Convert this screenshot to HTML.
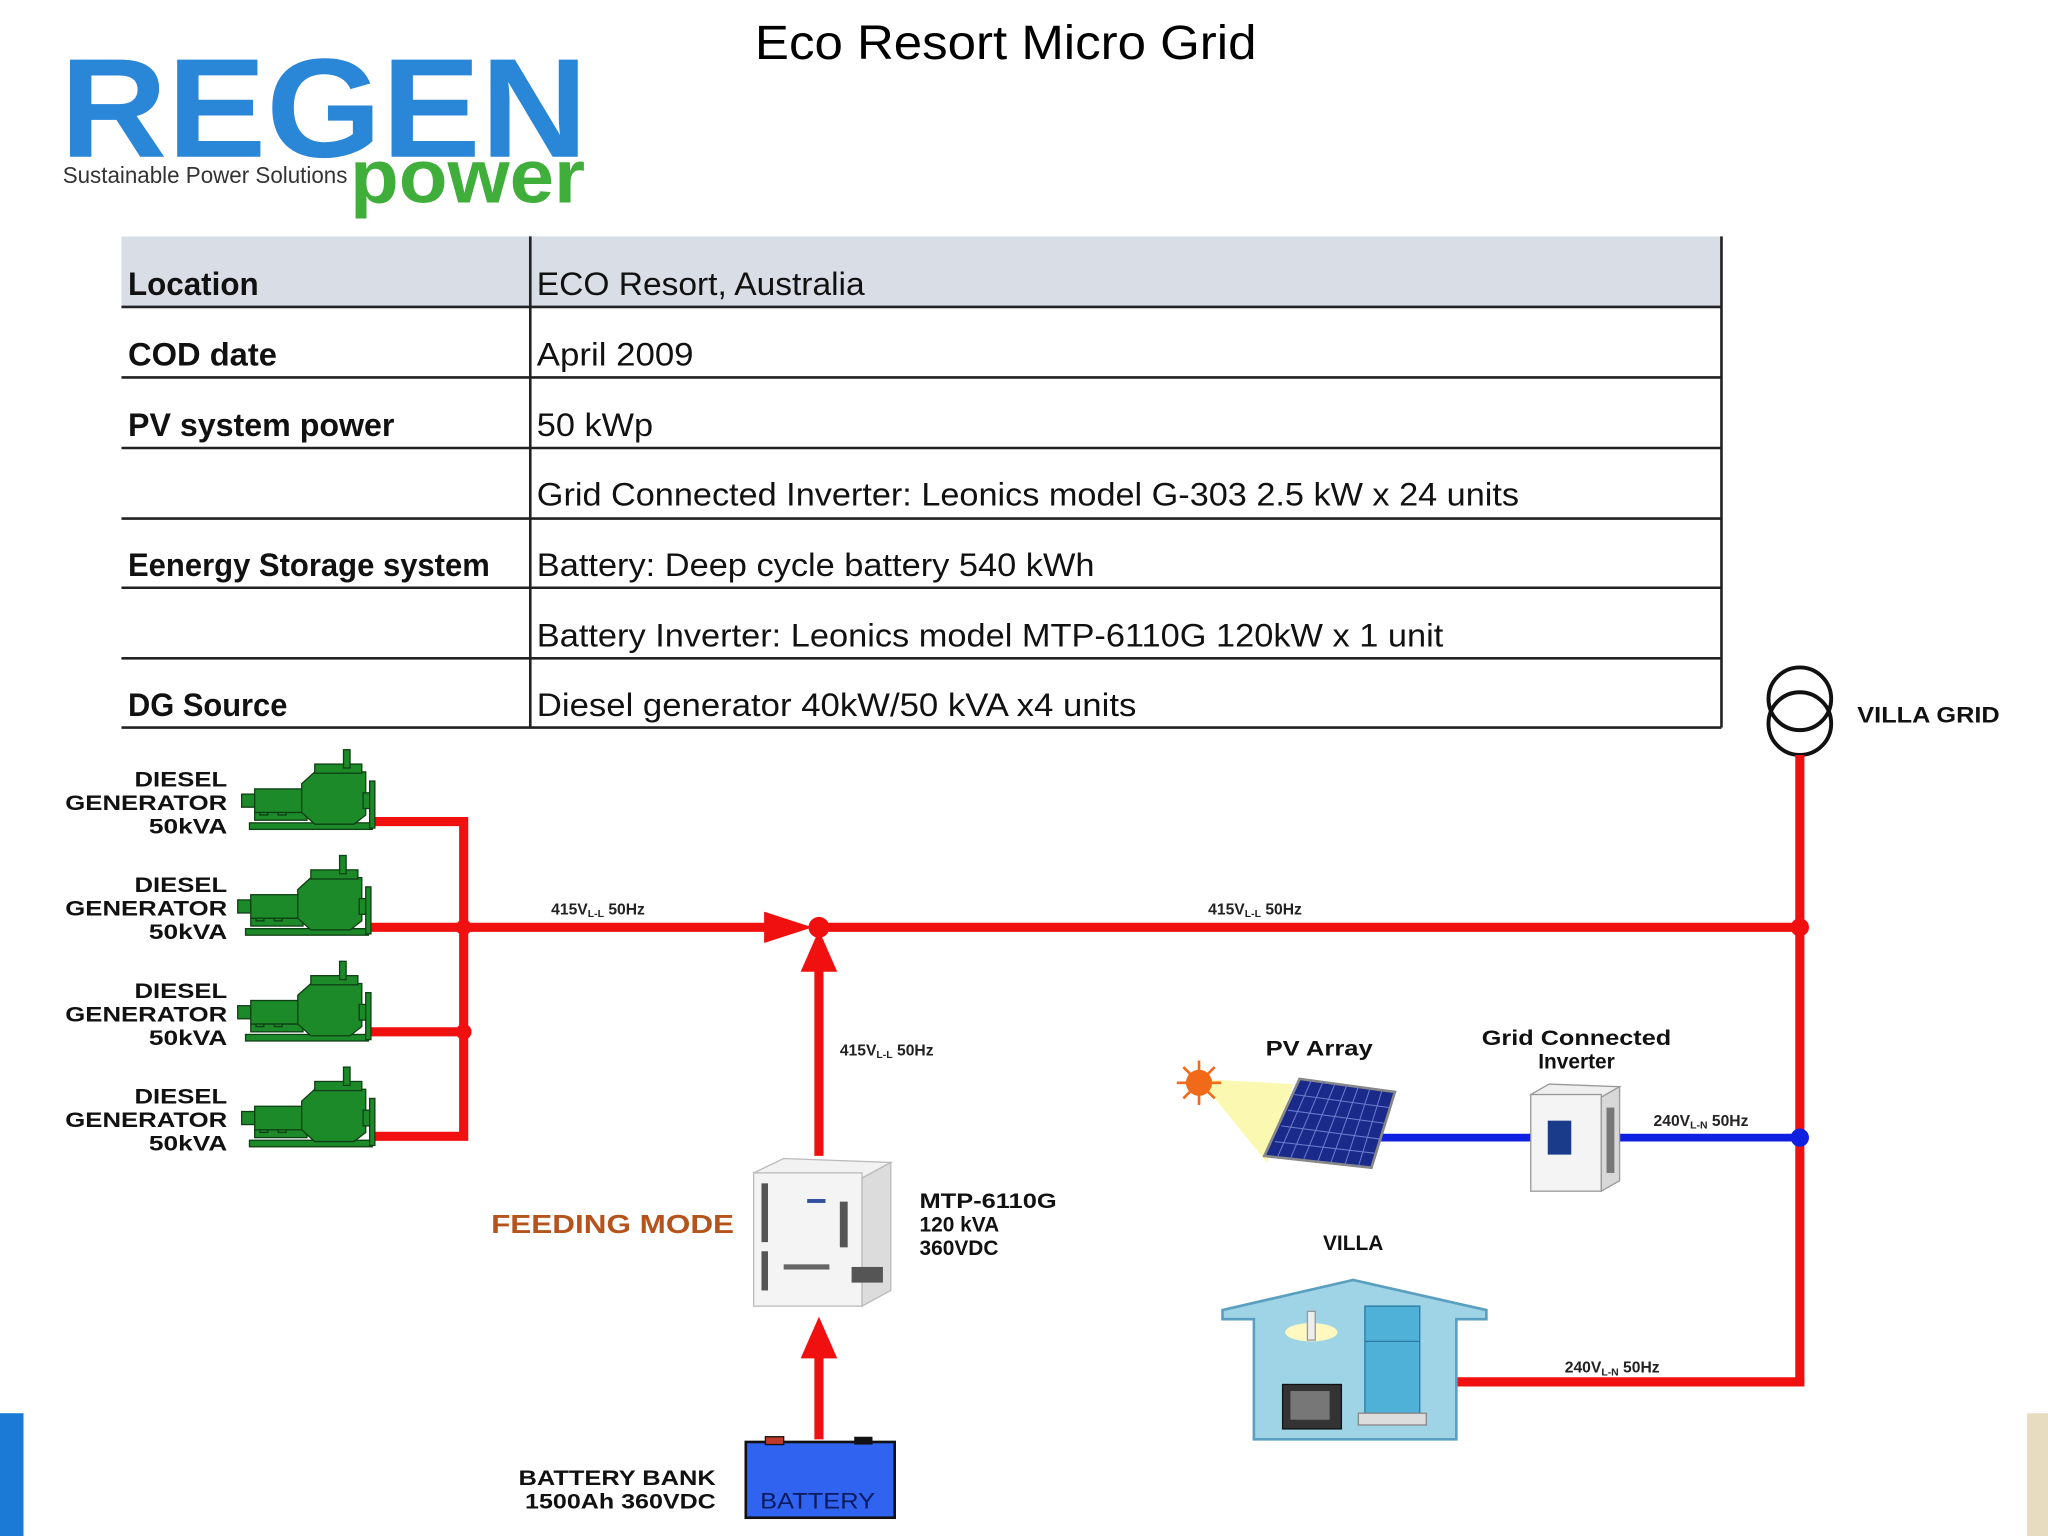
<!DOCTYPE html>
<html><head><meta charset="utf-8"><style>
html,body{margin:0;padding:0;background:#fff;}
svg{display:block;}
text{font-family:"Liberation Sans",Arial,sans-serif;}
</style></head><body>
<svg width="2048" height="1536" viewBox="0 0 1568 1176" xmlns="http://www.w3.org/2000/svg">
<defs>
<g id="gen">
  <rect x="6" y="56" width="94" height="5" fill="#1d8a2a" stroke="#0f3f14" stroke-width="1"/>
  <rect x="10" y="48" width="40" height="6" fill="#1d8a2a" stroke="#0f3f14" stroke-width="1"/>
  <rect x="14" y="44" width="6" height="6" fill="#1d8a2a" stroke="#0f3f14" stroke-width="1"/>
  <rect x="28" y="44" width="6" height="6" fill="#1d8a2a" stroke="#0f3f14" stroke-width="1"/>
  <rect x="0" y="34" width="10" height="10" fill="#1d8a2a" stroke="#0f3f14" stroke-width="1"/>
  <rect x="10" y="30" width="38" height="18" fill="#1d8a2a" stroke="#0f3f14" stroke-width="1"/>
  <polygon points="46,26 56,17 95,17 95,50 86,57 56,57 46,48" fill="#1d8a2a" stroke="#0f3f14" stroke-width="1"/>
  <rect x="56" y="11" width="36" height="7" fill="#1d8a2a" stroke="#0f3f14" stroke-width="1"/>
  <rect x="78" y="0" width="5" height="14" fill="#1d8a2a" stroke="#0f3f14" stroke-width="1"/>
  <rect x="93" y="33" width="6" height="12" fill="#1d8a2a" stroke="#0f3f14" stroke-width="1"/>
  <rect x="98" y="24" width="4" height="36" fill="#1d8a2a" stroke="#0f3f14" stroke-width="1"/>
</g>
</defs>

<!-- Title -->
<text x="578" y="45" font-size="37" fill="#000" textLength="384" lengthAdjust="spacingAndGlyphs">Eco Resort Micro Grid</text>

<!-- Logo -->
<text x="46" y="120" font-size="108" font-weight="bold" fill="#2a86d6" textLength="404" lengthAdjust="spacingAndGlyphs">REGEN</text>
<text x="48" y="140" font-size="18" fill="#333" textLength="218" lengthAdjust="spacingAndGlyphs">Sustainable Power Solutions</text>
<text x="268" y="155" font-size="58" font-weight="bold" fill="#3fae3a" textLength="180" lengthAdjust="spacingAndGlyphs">power</text>

<!-- Table -->
<rect x="93" y="181" width="1225" height="54" fill="#d9dde5"/>
<g stroke="#222" stroke-width="2" fill="none">
  <line x1="93" y1="235" x2="1318" y2="235"/>
  <line x1="93" y1="289" x2="1318" y2="289"/>
  <line x1="93" y1="343" x2="1318" y2="343"/>
  <line x1="93" y1="397" x2="1318" y2="397"/>
  <line x1="93" y1="450" x2="1318" y2="450"/>
  <line x1="93" y1="504" x2="1318" y2="504"/>
  <line x1="93" y1="557" x2="1318" y2="557"/>
  <line x1="406" y1="181" x2="406" y2="557"/>
  <line x1="1318" y1="181" x2="1318" y2="557"/>
</g>
<g font-size="25" fill="#111" lengthAdjust="spacingAndGlyphs">
  <text x="98" y="226" font-weight="bold" textLength="100" lengthAdjust="spacingAndGlyphs">Location</text>
  <text x="98" y="280" font-weight="bold" textLength="114" lengthAdjust="spacingAndGlyphs">COD date</text>
  <text x="98" y="334" font-weight="bold" textLength="204" lengthAdjust="spacingAndGlyphs">PV system power</text>
  <text x="98" y="441" font-weight="bold" textLength="277" lengthAdjust="spacingAndGlyphs">Eenergy Storage system</text>
  <text x="98" y="548" font-weight="bold" textLength="122" lengthAdjust="spacingAndGlyphs">DG Source</text>
  <text x="411" y="226" textLength="251" lengthAdjust="spacingAndGlyphs">ECO Resort, Australia</text>
  <text x="411" y="280" textLength="120" lengthAdjust="spacingAndGlyphs">April 2009</text>
  <text x="411" y="334" textLength="89" lengthAdjust="spacingAndGlyphs">50 kWp</text>
  <text x="411" y="387" textLength="752" lengthAdjust="spacingAndGlyphs">Grid Connected Inverter: Leonics model G-303 2.5 kW x 24 units</text>
  <text x="411" y="441" textLength="427" lengthAdjust="spacingAndGlyphs">Battery: Deep cycle battery 540 kWh</text>
  <text x="411" y="495" textLength="694" lengthAdjust="spacingAndGlyphs">Battery Inverter: Leonics model MTP-6110G 120kW x 1 unit</text>
  <text x="411" y="548" textLength="459" lengthAdjust="spacingAndGlyphs">Diesel generator 40kW/50 kVA x4 units</text>
</g>

<!-- Villa grid transformer -->
<circle cx="1378" cy="535" r="24" fill="none" stroke="#111" stroke-width="3"/>
<circle cx="1378" cy="554" r="24" fill="none" stroke="#111" stroke-width="3"/>
<text x="1422" y="553" font-size="17" font-weight="bold" fill="#111" textLength="109" lengthAdjust="spacingAndGlyphs">VILLA GRID</text>

<!-- Red lines -->
<g stroke="#f01010" stroke-width="7" fill="none">
  <line x1="1378" y1="578" x2="1378" y2="1060"/>
  <line x1="283" y1="710" x2="590" y2="710"/>
  <line x1="627" y1="710" x2="1378" y2="710"/>
  <polyline points="283,629 355,629 355,870 283,870"/>
  <line x1="283" y1="790" x2="355" y2="790"/>
  <line x1="627" y1="885" x2="627" y2="740"/>
  <line x1="627" y1="1102" x2="627" y2="1035"/>
  <polyline points="1115,1058 1378,1058 1378,1055"/>
</g>
<polygon points="585,698 585,722 622,710" fill="#f01010"/>
<polygon points="613,744 641,744 627,712" fill="#f01010"/>
<polygon points="613,1040 641,1040 627,1008" fill="#f01010"/>
<g fill="#f01010">
  <circle cx="355" cy="710" r="6"/>
  <circle cx="355" cy="790" r="6"/>
  <circle cx="627" cy="710" r="8"/>
  <circle cx="1378" cy="710" r="7"/>
</g>

<!-- Blue line -->
<line x1="1055" y1="871" x2="1378" y2="871" stroke="#1020e0" stroke-width="6"/>
<circle cx="1378" cy="871" r="7" fill="#1020e0"/>

<!-- Voltage labels -->
<g font-size="12" font-weight="bold" fill="#222">
  <text x="422" y="700">415V<tspan font-size="8" dy="2">L-L</tspan><tspan dy="-2"> 50Hz</tspan></text>
  <text x="925" y="700">415V<tspan font-size="8" dy="2">L-L</tspan><tspan dy="-2"> 50Hz</tspan></text>
  <text x="643" y="808">415V<tspan font-size="8" dy="2">L-L</tspan><tspan dy="-2"> 50Hz</tspan></text>
  <text x="1266" y="862">240V<tspan font-size="8" dy="2">L-N</tspan><tspan dy="-2"> 50Hz</tspan></text>
  <text x="1198" y="1051">240V<tspan font-size="8" dy="2">L-N</tspan><tspan dy="-2"> 50Hz</tspan></text>
</g>

<!-- Generators -->
<use href="#gen" x="185" y="574"/>
<use href="#gen" x="182" y="655"/>
<use href="#gen" x="182" y="736"/>
<use href="#gen" x="185" y="817"/>
<g font-size="16" font-weight="bold" fill="#111" text-anchor="end">
  <text x="174" y="602" textLength="71" lengthAdjust="spacingAndGlyphs">DIESEL</text><text x="174" y="620" textLength="124" lengthAdjust="spacingAndGlyphs">GENERATOR</text><text x="174" y="638" textLength="60" lengthAdjust="spacingAndGlyphs">50kVA</text>
  <text x="174" y="683" textLength="71" lengthAdjust="spacingAndGlyphs">DIESEL</text><text x="174" y="701" textLength="124" lengthAdjust="spacingAndGlyphs">GENERATOR</text><text x="174" y="719" textLength="60" lengthAdjust="spacingAndGlyphs">50kVA</text>
  <text x="174" y="764" textLength="71" lengthAdjust="spacingAndGlyphs">DIESEL</text><text x="174" y="782" textLength="124" lengthAdjust="spacingAndGlyphs">GENERATOR</text><text x="174" y="800" textLength="60" lengthAdjust="spacingAndGlyphs">50kVA</text>
  <text x="174" y="845" textLength="71" lengthAdjust="spacingAndGlyphs">DIESEL</text><text x="174" y="863" textLength="124" lengthAdjust="spacingAndGlyphs">GENERATOR</text><text x="174" y="881" textLength="60" lengthAdjust="spacingAndGlyphs">50kVA</text>
</g>

<!-- MTP inverter -->
<polygon points="577,898 600,887 682,890 660,902" fill="#f2f2f2" stroke="#bbb"/>
<rect x="577" y="898" width="83" height="102" fill="#f4f4f4" stroke="#bbb"/>
<polygon points="660,902 682,890 682,988 660,1000" fill="#dcdcdc" stroke="#bbb"/>
<rect x="583" y="906" width="5" height="45" fill="#555"/>
<rect x="583" y="958" width="5" height="30" fill="#555"/>
<rect x="643" y="920" width="6" height="35" fill="#555"/>
<rect x="600" y="968" width="35" height="4" fill="#666"/>
<rect x="652" y="970" width="24" height="12" fill="#555"/>
<rect x="618" y="918" width="14" height="3" fill="#3050a0"/>
<g font-size="16" font-weight="bold" fill="#111">
  <text x="704" y="925" textLength="105" lengthAdjust="spacingAndGlyphs">MTP-6110G</text><text x="704" y="943">120 kVA</text><text x="704" y="961">360VDC</text>
</g>
<text x="376" y="944" font-size="20" font-weight="bold" fill="#b5531c" textLength="186" lengthAdjust="spacingAndGlyphs">FEEDING MODE</text>

<!-- Battery -->
<rect x="571" y="1104" width="114" height="58" fill="#2f63f0" stroke="#111" stroke-width="2"/>
<rect x="586" y="1100" width="14" height="6" fill="#c0392b" stroke="#111"/>
<rect x="654" y="1100" width="14" height="6" fill="#111"/>
<text x="582" y="1155" font-size="17" fill="#0a1a60" textLength="88" lengthAdjust="spacingAndGlyphs">BATTERY</text>
<g font-size="16" font-weight="bold" fill="#111" text-anchor="end">
  <text x="548" y="1137" textLength="151" lengthAdjust="spacingAndGlyphs">BATTERY BANK</text><text x="548" y="1155" textLength="146" lengthAdjust="spacingAndGlyphs">1500Ah 360VDC</text>
</g>

<!-- PV -->
<polygon points="918,826 990,830 970,890" fill="#fbf7a8" opacity="0.9"/>
<circle cx="918" cy="829" r="10" fill="#f06a1a"/>
<g stroke="#f06a1a" stroke-width="2">
  <line x1="918" y1="812" x2="918" y2="846"/><line x1="901" y1="829" x2="935" y2="829"/>
  <line x1="906" y1="817" x2="930" y2="841"/><line x1="930" y1="817" x2="906" y2="841"/>
</g>
<polygon points="995,826 1068,836 1050,894 968,885" fill="#1a2a8a" stroke="#888" stroke-width="2"/>
<g stroke="#6a7acc" stroke-width="0.8">
  <line x1="1004" y1="827" x2="978" y2="886"/><line x1="1013" y1="828" x2="988" y2="887"/>
  <line x1="1022" y1="830" x2="998" y2="888"/><line x1="1031" y1="831" x2="1009" y2="889"/>
  <line x1="1040" y1="832" x2="1019" y2="890"/><line x1="1049" y1="833" x2="1030" y2="891"/>
  <line x1="1058" y1="835" x2="1040" y2="893"/>
  <line x1="991" y1="838" x2="1064" y2="848"/><line x1="986" y1="850" x2="1060" y2="860"/>
  <line x1="981" y1="862" x2="1056" y2="872"/><line x1="976" y1="874" x2="1053" y2="883"/>
</g>
<text x="1010" y="808" font-size="16" font-weight="bold" fill="#111" text-anchor="middle" textLength="82" lengthAdjust="spacingAndGlyphs">PV Array</text>

<!-- Grid connected inverter -->
<polygon points="1172,838 1186,830 1240,832 1226,840" fill="#eee" stroke="#999"/>
<rect x="1172" y="838" width="54" height="74" fill="#f4f4f4" stroke="#999"/>
<polygon points="1226,840 1240,832 1240,904 1226,912" fill="#d8d8d8" stroke="#999"/>
<rect x="1185" y="858" width="18" height="26" fill="#1a3a8a"/>
<rect x="1230" y="848" width="6" height="50" fill="#777"/>
<g font-size="16" font-weight="bold" fill="#111" text-anchor="middle">
  <text x="1207" y="800" textLength="145" lengthAdjust="spacingAndGlyphs">Grid Connected</text><text x="1207" y="818">Inverter</text>
</g>

<!-- Villa -->
<text x="1036" y="957" font-size="16" font-weight="bold" fill="#111" text-anchor="middle">VILLA</text>
<polygon points="936,1003 1036,980 1138,1003 1138,1010 1115,1010 1115,1102 960,1102 960,1010 936,1010" fill="#9fd3e6" stroke="#5a9fc0" stroke-width="2"/>
<rect x="1045" y="1000" width="42" height="82" fill="#4fb0d8" stroke="#2a7aa0"/>
<line x1="1045" y1="1027" x2="1087" y2="1027" stroke="#2a7aa0"/>
<rect x="1040" y="1082" width="52" height="9" fill="#ddd" stroke="#888"/>
<rect x="982" y="1060" width="45" height="34" fill="#333" stroke="#111"/>
<rect x="988" y="1065" width="30" height="22" fill="#777"/>
<ellipse cx="1004" cy="1020" rx="20" ry="7" fill="#fff8c0"/>
<rect x="1001" y="1004" width="6" height="22" fill="#eee" stroke="#999"/>

<!-- Side decorations -->
<rect x="0" y="1082" width="18" height="94" fill="#1a7ad6"/>
<rect x="1552" y="1082" width="16" height="94" fill="#e8dcc0"/>
</svg>
</body></html>
